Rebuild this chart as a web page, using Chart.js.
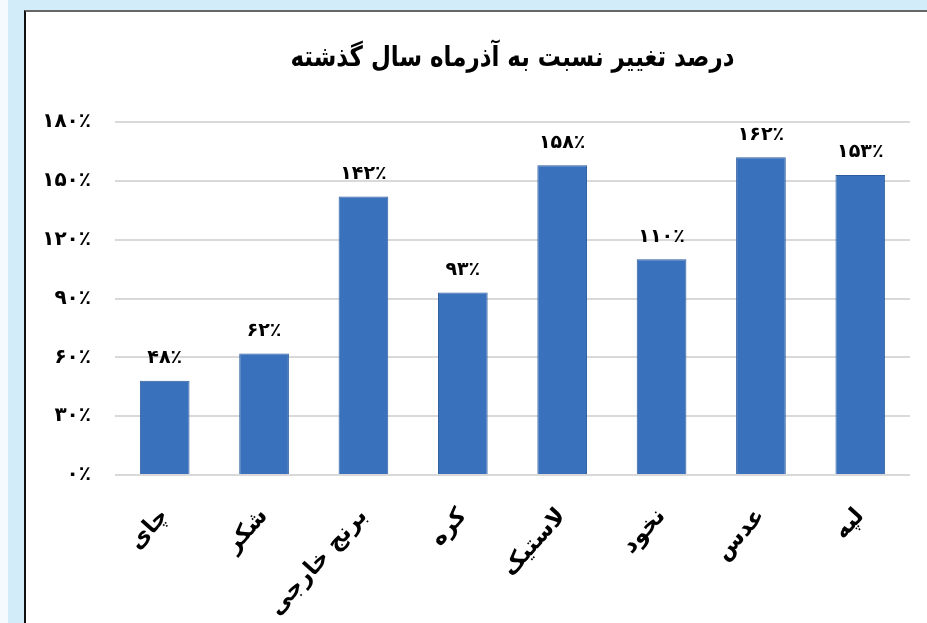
<!DOCTYPE html>
<html lang="fa">
<head>
<meta charset="utf-8">
<title>درصد تغییر نسبت به آذرماه سال گذشته</title>
<script src="https://cdn.jsdelivr.net/npm/chart.js@4/dist/chart.umd.min.js"></script>
<style>
    html, body { margin: 0; padding: 0; width: 927px; height: 623px; overflow: hidden; background: #d2ecf9; }
    #strip { position: absolute; left: 0; top: 0; width: 8px; height: 623px; background: #f4fafd; }
    #panel {
        position: absolute; left: 24px; top: 10px; width: 903px; height: 613px;
        background: #ffffff; border-left: 2px solid #111; border-top: 2px solid #666;
    }
    #chartBox { position: relative; width: 901px; height: 611px; }
</style>
</head>
<body>
<div id="strip"></div>
<div id="panel">
    <div id="chartBox"><canvas id="priceChart"></canvas></div>
</div>
<script>
// داده‌های نمودار
const categories = ['چای', 'شکر', 'برنج خارجی', 'کره', 'لاستیک', 'نخود', 'عدس', 'لپه'];
const changePercent = [48, 62, 142, 93, 158, 110, 162, 153];
const yTicks = [0, 30, 60, 90, 120, 150, 180];
const chartTitle = 'درصد تغییر نسبت به آذرماه سال گذشته';

const faFont = '"DejaVu Sans", "Noto Sans", sans-serif';

// تبدیل عدد به ارقام فارسی
function toFa(n) {
    return String(n).replace(/\d/g, d => '۰۱۲۳۴۵۶۷۸۹'[d]);
}

// عنوان بالای ناحیه نمودار + برچسب مقدار روی هر ستون
const labelPlugin = {
    id: 'labelPlugin',
    afterDatasetsDraw(chart) {
        const ctx = chart.ctx;
        const area = chart.chartArea;
        ctx.save();
        ctx.fillStyle = '#000';
        ctx.textAlign = 'center';

        // عنوان: کمی فشرده‌تر، مثل فونت اصلی
        ctx.save();
        ctx.translate((area.left + area.right) / 2, 47);
        ctx.scale(0.82, 1);
        ctx.font = 'bold 28px ' + faFont;
        ctx.textBaseline = 'middle';
        ctx.fillText(chartTitle, 0, 0);
        ctx.restore();

        ctx.font = 'bold 19px ' + faFont;
        ctx.textBaseline = 'bottom';
        chart.getDatasetMeta(0).data.forEach((bar, i) => {
            ctx.fillText(toFa(changePercent[i]) + '٪', bar.x, bar.y - 13);
        });
        ctx.restore();
    }
};

const ctxPrice = document.getElementById('priceChart').getContext('2d');
new Chart(ctxPrice, {
    type: 'bar',
    data: {
        labels: categories,
        datasets: [{
            data: changePercent,
            backgroundColor: '#3a71bd',
            borderColor: '#2d5d9d',
            borderWidth: 1,
            barPercentage: 0.5,
            categoryPercentage: 1.0
        }]
    },
    options: {
        responsive: true,
        maintainAspectRatio: false,
        animation: false,
        layout: { padding: { top: 110, left: 9, right: 17, bottom: 0 } },
        plugins: {
            legend: { display: false },
            tooltip: { enabled: false }
        },
        scales: {
            x: {
                grid: { display: false },
                border: { display: false },
                ticks: {
                    color: '#000',
                    font: { family: faFont, size: 23, weight: 'bold' },
                    minRotation: 48,
                    maxRotation: 48,
                    autoSkip: false,
                    padding: 20
                },
                afterFit: s => { s.height = 148; }
            },
            y: {
                min: 0,
                max: 180,
                afterBuildTicks: s => { s.ticks = yTicks.map(v => ({ value: v })); },
                grid: { color: '#d9d9d9', lineWidth: 2, drawTicks: false },
                border: { display: false },
                ticks: {
                    color: '#000',
                    font: { family: faFont, size: 20, weight: 'bold' },
                    padding: 24,
                    callback: v => toFa(v) + '٪'
                },
                afterFit: s => { s.width = 80; }
            }
        }
    },
    plugins: [labelPlugin]
});
</script>
</body>
</html>
